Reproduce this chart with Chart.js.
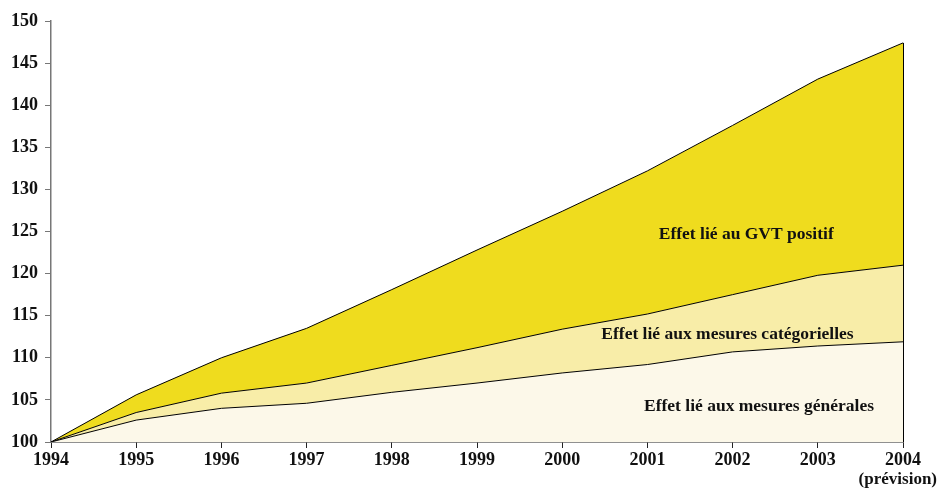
<!DOCTYPE html>
<html lang="fr">
<head>
<meta charset="utf-8">
<script src="https://cdn.jsdelivr.net/npm/chart.js@4"></script>
<style>
  html, body { margin: 0; padding: 0; background: #ffffff; }
  #wrap { width: 938px; height: 488px; position: relative; }
</style>
</head>
<body>
<div id="wrap"><canvas id="chart" width="938" height="488"></canvas></div>
<script>
// Années (la dernière est une prévision)
const years = ['1994', '1995', '1996', '1997', '1998', '1999', '2000', '2001', '2002', '2003', '2004'];
const forecastNote = '(prévision)';

// Indices cumulés (base 100 en 1994)
const mesuresGenerales     = [100, 102.6, 104.0, 104.6, 105.9, 107.0, 108.2, 109.2, 110.7, 111.4, 111.9];
const mesuresCategorielles = [100, 103.5, 105.8, 107.0, 109.1, 111.2, 113.4, 115.2, 117.5, 119.8, 121.0];
const gvtPositif           = [100, 105.6, 110.0, 113.5, 118.1, 122.8, 127.4, 132.2, 137.6, 143.1, 147.4];

const yTicks = [100, 105, 110, 115, 120, 125, 130, 135, 140, 145, 150];

// Étiquettes des zones : [texte, position en année (index), valeur]
const areaLabels = [
  ['Effet lié au GVT positif', 8.16, 124.6],
  ['Effet lié aux mesures catégorielles', 7.94, 112.8],
  ['Effet lié aux mesures générales', 8.31, 104.2]
];

const serif = '"Liberation Serif", "DejaVu Serif", serif';

const areaLabelPlugin = {
  id: 'areaLabels',
  afterDatasetsDraw(chart) {
    const { ctx, scales: { x, y } } = chart;
    ctx.save();
    // bord droit fermant les zones
    const last = years.length - 1;
    const px = Math.round(x.getPixelForValue(last)) + 0.5;
    ctx.strokeStyle = '#000';
    ctx.lineWidth = 1;
    ctx.beginPath();
    ctx.moveTo(px, y.getPixelForValue(gvtPositif[last]));
    ctx.lineTo(px, y.getPixelForValue(y.min));
    ctx.stroke();

    ctx.fillStyle = '#111';
    ctx.font = 'bold 17.5px ' + serif;
    ctx.textAlign = 'center';
    ctx.textBaseline = 'middle';
    areaLabels.forEach(([txt, xi, v]) => {
      ctx.fillText(txt, x.getPixelForValue(xi), y.getPixelForValue(v));
    });
    ctx.restore();
  },
  afterDraw(chart) {
    const { ctx } = chart;
    ctx.save();
    ctx.fillStyle = '#111';
    ctx.font = 'bold 17px ' + serif;
    ctx.textAlign = 'right';
    ctx.textBaseline = 'middle';
    ctx.fillText(forecastNote, chart.width - 1, 480);
    ctx.restore();
  }
};

new Chart(document.getElementById('chart'), {
  type: 'line',
  data: {
    labels: years,
    datasets: [
      {
        label: 'Effet lié aux mesures générales',
        data: mesuresGenerales,
        fill: 'start',
        backgroundColor: '#fcf8e9',
        borderColor: '#000',
        borderWidth: 1,
        pointRadius: 0,
        tension: 0
      },
      {
        label: 'Effet lié aux mesures catégorielles',
        data: mesuresCategorielles,
        fill: '-1',
        backgroundColor: '#f8eda8',
        borderColor: '#000',
        borderWidth: 1,
        pointRadius: 0,
        tension: 0
      },
      {
        label: 'Effet lié au GVT positif',
        data: gvtPositif,
        fill: '-1',
        backgroundColor: '#efdc1e',
        borderColor: '#000',
        borderWidth: 1,
        pointRadius: 0,
        tension: 0
      }
    ]
  },
  options: {
    responsive: false,
    animation: false,
    layout: { padding: { top: 21, right: 35, left: 0, bottom: 0 } },
    plugins: {
      legend: { display: false },
      tooltip: { enabled: false }
    },
    scales: {
      x: {
        type: 'category',
        offset: false,
        grid: { display: true, drawOnChartArea: false, drawTicks: true, tickLength: 6, color: '#222' },
        border: { display: true, color: '#222', width: 1.5 },
        ticks: { color: '#111', font: { family: serif, size: 18, weight: 'bold' }, padding: 2, maxRotation: 0, autoSkip: false },
        afterFit(s) { s.height = 46; }
      },
      y: {
        min: 100,
        max: 150,
        afterBuildTicks(s) { s.ticks = yTicks.map(v => ({ value: v })); },
        grid: { display: true, drawOnChartArea: false, drawTicks: true, tickLength: 6, color: '#777' },
        border: { display: true, color: '#777', width: 1.5 },
        ticks: { color: '#111', font: { family: serif, size: 18, weight: 'bold' }, padding: 7 },
        afterFit(s) { s.width = 51; }
      }
    }
  },
  plugins: [areaLabelPlugin]
});
</script>
</body>
</html>
